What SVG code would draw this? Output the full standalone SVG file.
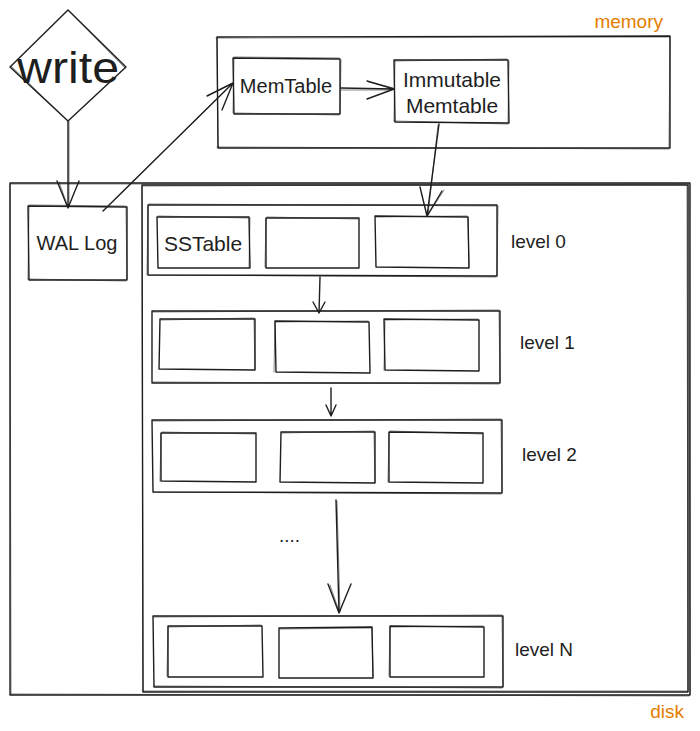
<svg xmlns="http://www.w3.org/2000/svg" width="700" height="731" viewBox="0 0 700 731">
<style>
.s{fill:none;stroke:#1e1e1e;stroke-width:1.4;stroke-linecap:round;stroke-linejoin:round}
.s2{fill:none;stroke:#1e1e1e;stroke-width:1;stroke-linecap:round;opacity:.55}
.t{font-family:"Liberation Sans",Arial,Helvetica,sans-serif;fill:#1e1e1e;font-size:20px}
.c{text-anchor:middle}
.o{fill:#e47d00;font-size:19px}
</style>
<rect width="700" height="731" fill="#ffffff"/>

<g id="write">
<path class="s" d="M68 10 L126 67 L68 121 L10 67 Z"/>
<path class="s2" d="M69 11 L125 68 M67 120 L11 66"/>
<text class="t c" x="68" y="83" font-size="45" textLength="102" lengthAdjust="spacingAndGlyphs" style="font-size:45px">write</text>
</g>

<g id="memory">
<path class="s" d="M217 37 L670 36 L670 148 L218 148 Z"/>
<path class="s2" d="M216 38 L669 37 M670 37 L669 147 M669 149 L217 147 M218 147 L217 38"/>
<text class="t o" x="663" y="28" text-anchor="end">memory</text>
</g>

<g id="memtable">
<path class="s" d="M233 58 L340 59 L340 114 L234 114 Z"/>
<path class="s2" d="M234 57 L339 58 M341 60 L340 113 M339 115 L235 113 M233 113 L234 59"/>
<text class="t c" x="286" y="93">MemTable</text>
</g>

<g id="immutable">
<path class="s" d="M394 60 L508 60 L509 123 L395 122 Z"/>
<path class="s2" d="M395 61 L507 59 M509 61 L508 122 M508 124 L394 121 M394 121 L395 61"/>
<text class="t c" x="452" y="87" style="font-size:21px">Immutable</text>
<text class="t c" x="452" y="113" style="font-size:21px">Memtable</text>
</g>

<g id="disk">
<path class="s" d="M10 183 L690 183 L690 695 L10 695 Z"/>
<path class="s2" d="M11 184 L689 184 M689 184 L690 694 M689 696 L11 694 M11 694 L10 184"/>
<text class="t o" x="684" y="718" text-anchor="end">disk</text>
</g>

<g id="disk-inner">
<path class="s" d="M142 185 L688 185 L688 692 L143 692 Z"/>
<path class="s2" d="M143 186 L687 184 M687 186 L688 691 M687 691 L142 691 M143 690 L142 186"/>
</g>

<g id="wal">
<path class="s" d="M28 206 L127 207 L127 280 L29 280 Z"/>
<path class="s2" d="M29 205 L126 206 M126 208 L127 279 M126 281 L28 279 M28 279 L29 207"/>
<text class="t c" x="77" y="250">WAL Log</text>
</g>

<g id="level0">
<path class="s" d="M148 205 L497 205 L497 276 L148 275 Z"/>
<path class="s2" d="M149 204 L496 206 M498 206 L497 275 M496 277 L149 275 M147 275 L148 206"/>
<text class="t" x="511" y="248" style="font-size:19px">level 0</text>
</g>
<g id="sstable">
<path class="s" d="M157 217 L249 217 L250 268 L158 268 Z"/>
<path class="s2" d="M158 216 L248 218 M250 218 L249 267"/>
<text class="t c" x="203" y="251" style="font-size:21px">SSTable</text>
</g>
<g id="l0b2">
<path class="s" d="M266 218 L359 218 L359 268 L266 268 Z"/>
<path class="s2" d="M267 217 L358 219 M265 267 L266 219"/>
</g>
<g id="l0b3">
<path class="s" d="M375 216 L468 217 L469 268 L376 267 Z"/>
<path class="s2" d="M376 217 L467 216 M468 218 L469 267"/>
</g>

<g id="level1">
<path class="s" d="M152 311 L500 311 L500 383 L152 383 Z"/>
<path class="s2" d="M153 312 L499 310 M499 312 L500 382 M499 384 L153 382"/>
<text class="t" x="520" y="349" style="font-size:19px">level 1</text>
</g>
<g id="l1b1"><path class="s" d="M160 319 L255 319 L255 370 L159 369 Z"/><path class="s2" d="M161 320 L254 318 M254 320 L255 369"/></g>
<g id="l1b2"><path class="s" d="M275 321 L369 322 L370 373 L276 372 Z"/><path class="s2" d="M276 322 L368 321 M274 372 L275 322"/></g>
<g id="l1b3"><path class="s" d="M384 319 L479 320 L479 371 L385 370 Z"/><path class="s2" d="M385 320 L478 319 M384 370 L385 321"/></g>

<g id="level2">
<path class="s" d="M152 420 L502 420 L502 493 L153 492 Z"/>
<path class="s2" d="M153 421 L501 419 M501 421 L502 492 M501 494 L153 492"/>
<text class="t" x="522" y="461" style="font-size:19px">level 2</text>
</g>
<g id="l2b1"><path class="s" d="M161 433 L256 433 L256 482 L161 481 Z"/><path class="s2" d="M162 432 L255 434 M160 481 L161 434"/></g>
<g id="l2b2"><path class="s" d="M281 432 L375 432 L375 483 L280 482 Z"/><path class="s2" d="M282 433 L374 431 M374 433 L375 482"/></g>
<g id="l2b3"><path class="s" d="M389 432 L483 433 L483 483 L389 482 Z"/><path class="s2" d="M390 431 L482 434 M388 482 L389 433"/></g>

<g id="dots">
<text class="t" x="279" y="542" style="font-size:19px">....</text>
</g>

<g id="levelN">
<path class="s" d="M153 616 L503 616 L503 687 L154 687 Z"/>
<path class="s2" d="M154 617 L502 615 M502 617 L503 686 M502 688 L154 686"/>
<text class="t" x="515" y="656" style="font-size:19px">level N</text>
</g>
<g id="lNb1"><path class="s" d="M168 626 L262 626 L263 677 L168 677 Z"/><path class="s2" d="M169 627 L261 625 M167 676 L168 627"/></g>
<g id="lNb2"><path class="s" d="M279 628 L372 627 L373 678 L279 678 Z"/><path class="s2" d="M280 629 L371 628 M372 628 L373 677"/></g>
<g id="lNb3"><path class="s" d="M390 626 L484 627 L484 677 L390 677 Z"/><path class="s2" d="M391 627 L483 626 M389 676 L390 627"/></g>

<g id="connectors">
<path class="s" d="M68 121 L68 208 M57 181 L68 208 L79 181"/>
<path class="s2" d="M69 122 L69 207 M59 182 L68 207"/>
<path class="s" d="M103 211 L232 84 M207 96 L233 83 L222 110"/>
<path class="s2" d="M104 210 L231 85"/>
<path class="s" d="M341 88 L393 89 M367 81 L394 89 L367 99"/>
<path class="s2" d="M341 90 L392 90 M369 82 L393 88"/>
<path class="s" d="M439 124 L427 216 M420 187 L427 216 L442 191"/>
<path class="s2" d="M438 125 L428 215 M444 190 L428 215"/>
<path class="s" d="M320 277 L319 313 M313 302 L319 313 L325 302"/>
<path class="s" d="M331 388 L331 416 M326 405 L331 416 L336 405"/>
<path class="s" d="M336 500 L339 613 M328 584 L339 613 L351 584"/>
<path class="s2" d="M337 501 L340 612 M330 585 L339 611"/>
</g>
</svg>
